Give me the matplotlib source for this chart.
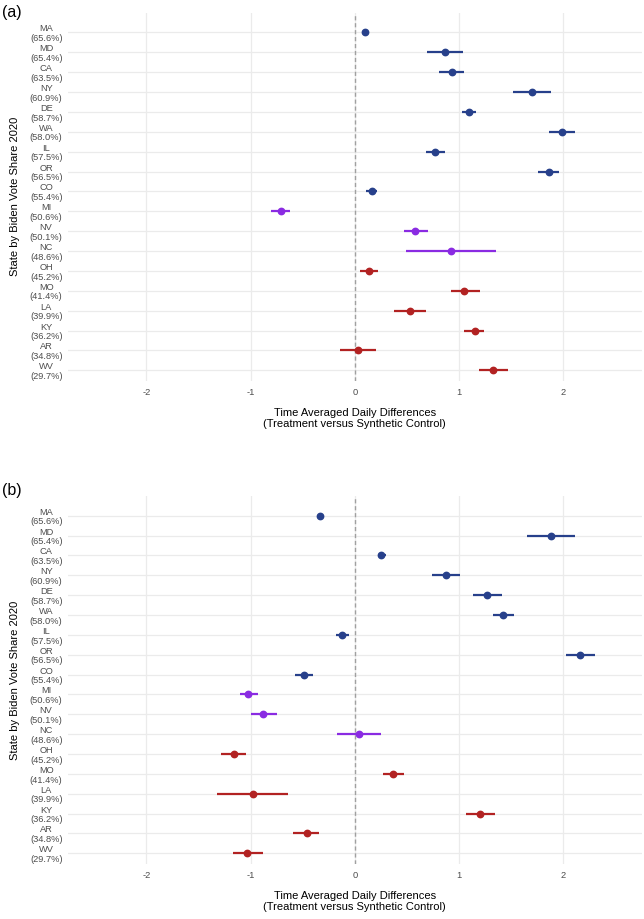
import matplotlib
matplotlib.use("Agg")
import matplotlib.pyplot as plt

plt.rcParams["font.family"] = ["Liberation Sans", "DejaVu Sans"]

states = ["MA", "MD", "CA", "NY", "DE", "WA", "IL", "OR", "CO",
          "MI", "NV", "NC", "OH", "MO", "LA", "KY", "AR", "WV"]
biden_share = ["65.6", "65.4", "63.5", "60.9", "58.7", "58.0", "57.5", "56.5", "55.4",
               "50.6", "50.1", "48.6", "45.2", "41.4", "39.9", "36.2", "34.8", "29.7"]
lean = ["D"] * 9 + ["S"] * 3 + ["R"] * 6

# Panel (a)
a_est = [0.10, 0.86, 0.93, 1.70, 1.09, 1.99, 0.77, 1.86, 0.16,
         -0.71, 0.58, 0.92, 0.14, 1.05, 0.53, 1.15, 0.03, 1.32]
a_lo = [0.09, 0.69, 0.81, 1.52, 1.03, 1.86, 0.68, 1.76, 0.11,
        -0.80, 0.47, 0.49, 0.05, 0.92, 0.38, 1.05, -0.14, 1.19]
a_hi = [0.11, 1.04, 1.05, 1.88, 1.16, 2.11, 0.86, 1.96, 0.21,
        -0.62, 0.70, 1.35, 0.22, 1.20, 0.68, 1.24, 0.20, 1.47]

# Panel (b)
b_est = [-0.33, 1.88, 0.25, 0.87, 1.27, 1.42, -0.12, 2.16, -0.49,
         -1.02, -0.88, 0.04, -1.16, 0.37, -0.98, 1.20, -0.46, -1.03]
b_lo = [-0.34, 1.65, 0.22, 0.74, 1.13, 1.32, -0.18, 2.02, -0.57,
        -1.10, -1.00, -0.17, -1.28, 0.27, -1.32, 1.07, -0.59, -1.17]
b_hi = [-0.32, 2.11, 0.30, 1.01, 1.41, 1.53, -0.06, 2.30, -0.40,
        -0.93, -0.75, 0.25, -1.04, 0.47, -0.64, 1.34, -0.34, -0.88]

colors = {"D": "#27408B", "S": "#8A2BE2", "R": "#B22222"}
xticks = [-2, -1, 0, 1, 2]

fig = plt.figure(figsize=(6.44, 9.19), dpi=100)

W, H = 644.0, 919.0
left_px, right_px = 68.0, 641.7
panels = [
    ("(a)", a_est, a_lo, a_hi, 12.7, 381.0, 5.0),
    ("(b)", b_est, b_lo, b_hi, 496.0, 864.0, 483.0),
]

ylabels = [f"{s}\n({v}%)" for s, v in zip(states, biden_share)]
ypos = list(range(len(states)))

for tag, est, lo, hi, top_px, bot_px, tag_px in panels:
    ax = fig.add_axes([left_px / W, 1 - bot_px / H,
                       (right_px - left_px) / W, (bot_px - top_px) / H])
    for sp in ax.spines.values():
        sp.set_visible(False)
    ax.set_xlim(-2.75, 2.75)
    ax.set_ylim(len(states) - 1 + 0.54, -0.99)
    ax.set_xticks(xticks)
    ax.set_xticklabels([str(t) for t in xticks])
    ax.set_yticks(ypos)
    ax.set_yticklabels(ylabels, ha="right", multialignment="center",
                       linespacing=1.1)
    ax.tick_params(axis="both", length=0, labelsize=6.7, colors="#4D4D4D")
    ax.tick_params(axis="x", pad=5)
    ax.tick_params(axis="y", pad=4)
    ax.grid(True, color="#EBEBEB", linewidth=0.9)
    ax.set_axisbelow(True)
    ax.axvline(0, color="#A0A0A0", linewidth=1.0, linestyle=(0, (3, 2)), zorder=1)
    for i in range(len(states)):
        c = colors[lean[i]]
        ax.hlines(ypos[i], lo[i], hi[i], color=c, linewidth=1.6, zorder=3)
        ax.plot(est[i], ypos[i], "o", color=c, markersize=4.6, zorder=4)
    ax.set_xlabel("Time Averaged Daily Differences\n(Treatment versus Synthetic Control)",
                  fontsize=8.0, color="black", labelpad=8, linespacing=1.15)
    ax.set_ylabel("State by Biden Vote Share 2020", fontsize=8.0, color="black",
                  labelpad=7)
    fig.text(2 / W, 1 - tag_px / H, tag, fontsize=11.5, va="top", ha="left")

fig.savefig("out.png", dpi=100)
